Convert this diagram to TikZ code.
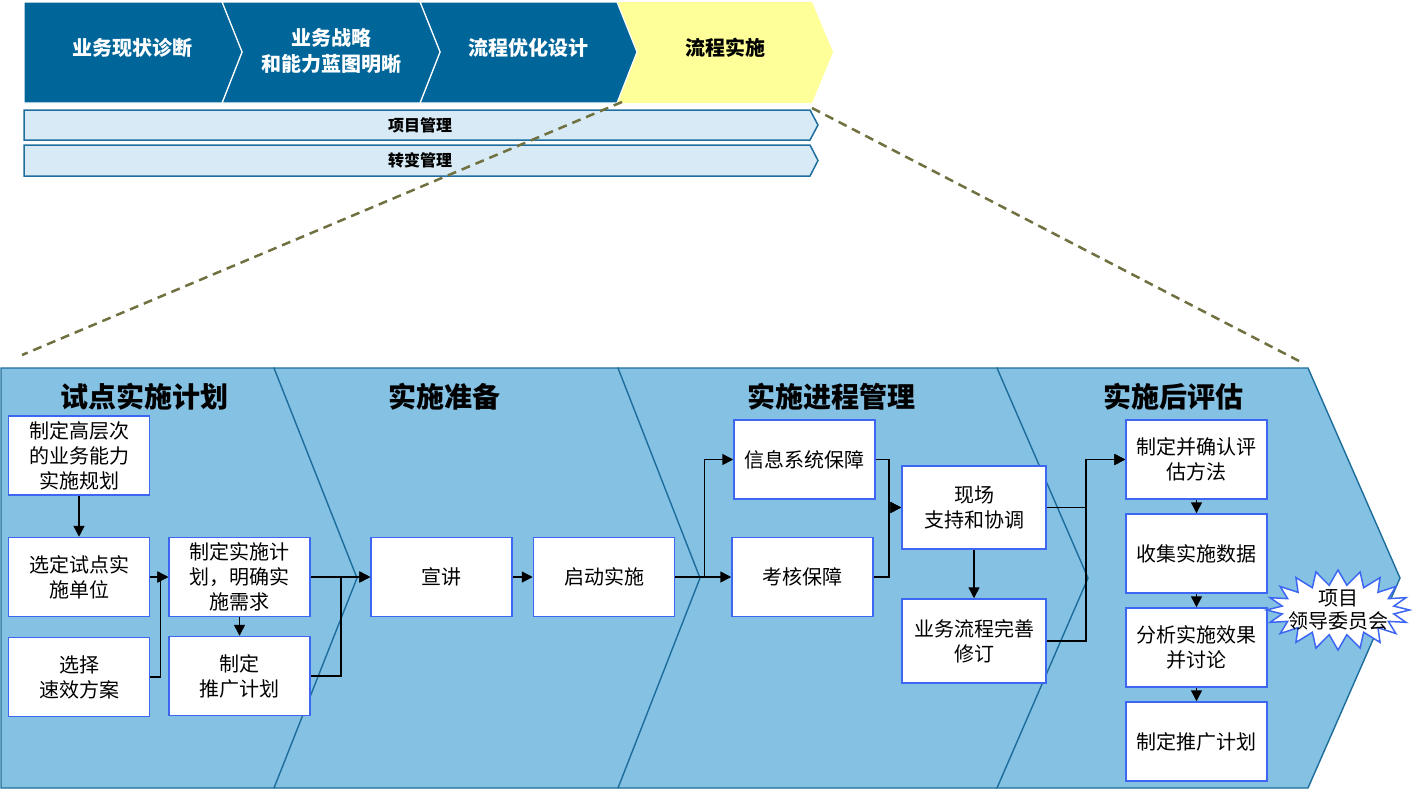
\documentclass[tikz,border=0pt]{standalone}
\usepackage{fontspec}
\setmainfont{Noto Sans CJK SC}
\usepackage{tikz}
\usetikzlibrary{positioning,arrows.meta,shapes.symbols,calc}
\definecolor{navy}{HTML}{006699}
\definecolor{lemon}{HTML}{FFFF99}
\definecolor{barfill}{HTML}{D7EAF5}
\definecolor{barline}{HTML}{1F6EA0}
\definecolor{phasefill}{HTML}{84C1E3}
\definecolor{phaseline}{HTML}{1D6D9C}
\definecolor{boxline}{HTML}{3D66F2}
\definecolor{olivedash}{HTML}{707040}

\begin{document}
\begin{tikzpicture}[x=1pt,y=-1pt, every node/.style={font=\fontsize{20}{25}\selectfont},
  chev/.style={fill=navy, draw=white, line width=1.2pt},
  bar/.style={fill=barfill, draw=barline, line width=1.5pt},
  phase/.style={fill=phasefill, draw=phaseline, line width=1.4pt},
  box/.style={draw=boxline, fill=white, line width=1.5pt, minimum width=141pt,
              minimum height=79pt, align=center, inner sep=2pt},
  ttl/.style={font=\fontsize{28}{32}\selectfont\bfseries},
  toptxt/.style={font=\fontsize{20}{26}\selectfont\bfseries, align=center},
  bartxt/.style={font=\fontsize{16}{18}\selectfont\bfseries},
  flow/.style={draw=black, line width=1.5pt, -{Triangle[length=11pt,width=11pt]}},
  zoom/.style={draw=olivedash, line width=2.5pt, dash pattern=on 9pt off 6pt},
  burst/.style={starburst, random starburst=0, starburst points=20, starburst point height=15pt,
                draw=boxline, fill=white, line width=1.5pt, minimum width=143pt,
                minimum height=80pt, inner sep=0pt},
]
  \useasboundingbox (0,0) rectangle (1413,790);

  % Top phases
  \fill[lemon] (617,2) -- (812,2) -- (833,52) -- (812,103) -- (617,103) -- (637,52) -- cycle;
  \draw[chev] (420,2) -- (617,2) -- (637,52) -- (617,103) -- (420,103) -- (440,52) -- cycle;
  \draw[chev] (222,2) -- (420,2) -- (440,52) -- (420,103) -- (222,103) -- (242,52) -- cycle;
  \draw[chev] (24,2) -- (222,2) -- (242,52) -- (222,103) -- (24,103) -- cycle;
  \node[toptxt, text=white] (p1) at (132,48) {业务现状诊断};
  \node[toptxt, text=white] (p2) at (331,51) {业务战略\\和能力蓝图明晰};
  \node[toptxt, text=white] (p3) at (528,48) {流程优化设计};
  \node[toptxt] (p4) at (725,48) {流程实施};

  % Management bars
  \draw[bar] (24,110) -- (810,110) -- (818,125) -- (810,140) -- (24,140) -- cycle;
  \draw[bar] (24,145) -- (810,145) -- (818,160.5) -- (810,176) -- (24,176) -- cycle;
  \node[bartxt] (pm) at (420,125) {项目管理};
  \node[bartxt] (cm) at (420,160.5) {转变管理};

  % Zoom lines
  \coordinate (zl) at (622,102);
  \coordinate (zr) at (812,108);
  \coordinate (zbl) at (22,355);
  \coordinate (zbr) at (1299,361);
  \draw[zoom] (zl) -- (zbl);
  \draw[zoom] (zr) -- (zbr);

  % Detail phases
  \draw[phase] (997,368) -- (1308,368) -- (1400,578) -- (1308,788) -- (997,788) -- cycle;
  \draw[phase] (618,368) -- (997,368) -- (1088,578) -- (997,788) -- (618,788) -- cycle;
  \draw[phase] (274,368) -- (618,368) -- (700,578) -- (618,788) -- (274,788) -- cycle;
  \draw[phase] (1,368) -- (274,368) -- (357,578) -- (274,788) -- (1,788) -- cycle;
  \node[ttl] (t1) at (144,397) {试点实施计划};
  \node[ttl] (t2) at (444,397) {实施准备};
  \node[ttl] (t3) at (831,397) {实施进程管理};
  \node[ttl] (t4) at (1173,397) {实施后评估};

  % Pilot plan
  \node[box] (b1) at (79,455.5) {制定高层次\\的业务能力\\实施规划};
  \node[box] (b2) at (79,577) {选定试点实\\施单位};
  \node[box] (b3) at (79,677) {选择\\速效方案};
  \node[box] (b4) at (239.5,577) {制定实施计\\划，明确实\\施需求};
  \node[box] (b5) at (239.5,676) {制定\\推广计划};
  % Preparation
  \node[box] (b6) at (441.5,577) {宣讲};
  \node[box] (b7) at (604,577) {启动实施};
  % Progress management
  \node[box] (b8) at (804.5,459.5) {信息系统保障};
  \node[box] (b9) at (802.5,577) {考核保障};
  \node[box, minimum width=144pt, minimum height=83pt] (b10) at (974,507.5) {现场\\支持和协调};
  \node[box, minimum width=144pt, minimum height=84pt] (b11) at (974,641) {业务流程完善\\修订};
  % Evaluation
  \node[box] (b12) at (1196.5,459.5) {制定并确认评\\估方法};
  \node[box] (b13) at (1196.5,553.5) {收集实施数据};
  \node[box] (b14) at (1196.5,647.5) {分析实施效果\\并讨论};
  \node[box] (b15) at (1196.5,741.5) {制定推广计划};
  \node[burst, label={[align=center, font=\fontsize{20}{23}\selectfont]center:项目\\领导委员会}] (lead) at (1338,610) {};

  % Flow
  \draw[flow] (b1) -- (b2);
  \draw[flow] (b2) -- (b4);
  \draw[flow] (b3.east) -- ++(10,0) |- (b4.west);
  \draw[flow] (b4) -- (b5);
  \draw[flow] (b4.east) -- (b6.west);
  \draw[flow] (b5.east) -- ++(30,0) |- (b6.west);
  \draw[flow] (b6) -- (b7);
  \draw[flow] (b7.east) -- (b9.west);
  \draw[flow] (b7.east) -- ++(29,0) |- (b8.west);
  \draw[flow] (b8.east) -- ++(13,0) |- (b10.west);
  \draw[flow] (b9.east) -- ++(15,0) |- (b10.west);
  \draw[flow] (b10) -- (b11);
  \draw[flow] (b10.east) -- ++(39,0) |- (b12.west);
  \draw[flow] (b11.east) -- ++(39,0) |- (b12.west);
  \draw[flow] (b12) -- (b13);
  \draw[flow] (b13) -- (b14);
  \draw[flow] (b14) -- (b15);
\end{tikzpicture}
\end{document}
